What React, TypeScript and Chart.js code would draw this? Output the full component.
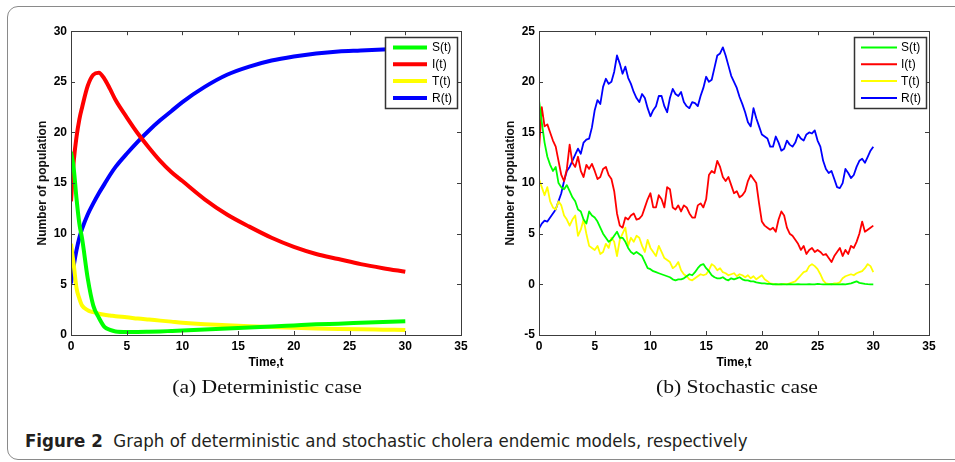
import React, { useEffect, useRef } from "react";
import { Chart, registerables } from "chart.js";

Chart.register(...registerables);

// ---------- data ----------
const seriesLabels = ["S(t)", "I(t)", "T(t)", "R(t)"];
const seriesColors = ["#00ff00", "#ff0000", "#ffff00", "#0000ff"];
const xTickValues = [0, 5, 10, 15, 20, 25, 30, 35];

// (a) deterministic case
const detTime = [0, 0.25, 0.5, 0.75, 1, 1.5, 2, 2.5, 3, 3.5, 4, 5, 6, 7, 8, 9, 10, 12, 14, 16, 18, 20, 22, 24, 26, 28, 30];
const detS = [18.1, 16.4, 13.4, 11.0, 9.5, 5.6, 2.9, 1.7, 0.8, 0.5, 0.35, 0.3, 0.3, 0.32, 0.35, 0.4, 0.45, 0.55, 0.65, 0.75, 0.85, 0.95, 1.05, 1.12, 1.2, 1.28, 1.35];
const detI = [13.2, 17.2, 19.6, 21.3, 22.5, 24.6, 25.7, 25.9, 25.3, 24.3, 23.2, 21.5, 19.9, 18.5, 17.2, 16.1, 15.2, 13.4, 11.9, 10.7, 9.6, 8.7, 8.0, 7.5, 7.0, 6.6, 6.25];
const detT = [9.0, 6.9, 4.6, 3.6, 2.9, 2.45, 2.25, 2.1, 2.0, 1.93, 1.85, 1.75, 1.62, 1.52, 1.42, 1.32, 1.22, 1.07, 0.96, 0.86, 0.78, 0.71, 0.65, 0.6, 0.56, 0.53, 0.5];
const detR = [5.1, 6.9, 8.4, 9.6, 10.5, 11.9, 13.0, 14.0, 14.9, 15.8, 16.6, 17.9, 19.1, 20.2, 21.2, 22.1, 23.0, 24.5, 25.7, 26.5, 27.1, 27.5, 27.8, 28.0, 28.1, 28.2, 28.3];

// (b) stochastic case, sampled every 0.25 time units from t = 0 to t = 30
const stochTime = Array.from({ length: 121 }, (_, i) => i * 0.25);
const stochS = [
  18.2, 16.0, 14.0, 12.6, 11.8, 11.2, 11.6, 10.0, 9.6, 9.4, 9.8, 9.2, 8.6, 8.2, 7.4, 7.2,
  6.4, 6.0, 7.2, 6.8, 6.6, 6.2, 5.6, 5.0, 4.6, 4.2, 4.4, 4.8, 5.2, 4.6, 4.6, 4.2,
  3.6, 3.2, 3.0, 3.2, 3.0, 2.8, 2.2, 1.6, 1.5, 1.3, 1.2, 1.1, 1.0, 0.9, 0.8, 0.7,
  0.5, 0.4, 0.5, 0.5, 0.6, 0.8, 1.0, 0.9, 1.2, 1.6, 1.9, 2.0, 1.6, 1.3, 0.9, 0.7,
  0.6, 0.6, 0.7, 0.5, 0.4, 0.6, 0.5, 0.6, 0.7, 0.5, 0.4, 0.4, 0.3, 0.3, 0.2, 0.15,
  0.1, 0.1, 0.05, 0.05, 0.0, 0.02, 0.0, 0.03, 0.0, 0.0, 0.02, 0.0, 0.0, 0.03, 0.0, 0.0,
  0.0, 0.02, 0.0, 0.0, 0.05, 0.02, 0.0, 0.0, 0.0, 0.03, 0.0, 0.0, 0.0, 0.02, 0.0, 0.05,
  0.1, 0.2, 0.3, 0.15, 0.1, 0.05, 0.02, 0.0, 0.0,
];
const stochI = [
  13.2, 17.5, 15.6, 15.8, 15.0, 14.2, 13.6, 12.2, 10.8, 10.2, 11.4, 13.8, 12.0, 11.6, 12.6, 11.2,
  10.6, 11.8, 11.4, 11.9, 11.2, 10.4, 10.6, 11.4, 11.6, 10.8, 10.4, 9.2, 7.0, 5.8, 5.6, 6.6,
  6.4, 6.8, 7.0, 6.4, 6.5, 6.8, 7.6, 8.4, 9.0, 7.6, 7.6, 8.8, 8.4, 7.6, 9.6, 9.4,
  7.6, 7.4, 7.8, 7.2, 7.8, 7.6, 7.0, 6.6, 6.6, 7.8, 8.0, 7.6, 8.4, 10.8, 11.2, 11.0,
  12.2, 11.6, 10.6, 10.2, 10.6, 9.8, 9.0, 9.2, 8.6, 8.8, 9.2, 10.2, 10.8, 10.4, 10.0, 8.0,
  6.2, 5.8, 5.6, 5.4, 5.6, 5.2, 6.4, 7.2, 6.8, 5.6, 5.0, 4.8, 4.4, 4.0, 3.4, 3.8,
  3.0, 3.4, 3.6, 3.2, 3.4, 3.2, 2.9, 3.0, 2.6, 2.2, 2.8, 3.2, 3.6, 2.8, 3.4, 3.0,
  3.8, 3.6, 4.2, 5.0, 6.2, 5.2, 5.4, 5.6, 5.8,
];
const stochT = [
  10.4, 9.6, 8.8, 9.6, 8.2, 7.6, 7.4, 8.2, 7.8, 6.8, 6.4, 5.8, 6.4, 6.8, 4.8, 5.4,
  6.4, 5.0, 3.8, 3.6, 3.4, 3.8, 3.0, 3.2, 4.0, 3.6, 4.6, 4.2, 2.8, 4.4, 5.0, 5.6,
  3.8, 4.6, 4.2, 4.8, 4.6, 3.8, 3.2, 4.4, 3.6, 3.2, 2.8, 3.8, 3.2, 2.6, 2.4, 2.2,
  1.6, 1.8, 2.2, 1.4, 1.0, 0.8, 0.5, 0.4, 0.6, 0.8, 1.0, 0.9, 1.0, 1.4, 2.0, 1.8,
  1.4, 1.6, 1.2, 1.1, 0.9, 1.0, 1.1, 0.8, 1.0, 0.9, 0.7, 0.9, 0.6, 0.8, 0.5, 0.7,
  0.9, 0.5, 0.3, 0.1, 0.05, 0.0, 0.0, 0.0, 0.05, 0.0, 0.1, 0.2, 0.3, 0.6, 0.9, 1.2,
  1.3, 1.8, 2.0, 1.8, 1.5, 1.0, 0.4, 0.1, 0.05, 0.0, 0.1, 0.1, 0.2, 0.6, 0.8, 0.9,
  1.0, 0.9, 1.1, 1.2, 1.3, 1.6, 2.0, 1.8, 1.2,
];
const stochR = [
  5.5, 6.0, 6.3, 6.2, 6.6, 7.0, 7.4, 8.2, 9.0, 10.2, 11.2, 11.6, 12.2, 12.8, 13.4, 12.9,
  14.0, 14.3, 14.4, 15.5, 17.2, 18.2, 17.8, 19.5, 20.3, 19.8, 20.0, 21.0, 22.6, 21.8, 20.8, 21.5,
  20.4, 19.8, 19.0, 18.4, 18.0, 18.8, 18.4, 17.4, 16.6, 17.2, 17.6, 18.6, 18.6, 17.6, 17.0, 18.4,
  19.3, 18.8, 18.6, 19.0, 18.0, 17.6, 17.4, 18.0, 17.9, 17.6, 18.6, 19.4, 20.5, 20.0, 20.2, 21.4,
  22.6, 22.8, 23.4, 22.6, 21.6, 20.6, 20.0, 19.4, 18.5, 17.8, 17.0, 16.0, 15.6, 17.4, 16.4, 15.6,
  14.8, 14.6, 14.4, 13.6, 13.6, 14.6, 14.0, 13.2, 13.4, 14.2, 13.8, 13.6, 14.0, 14.8, 14.4, 14.2,
  14.8, 15.0, 14.9, 15.2, 14.2, 13.6, 12.2, 11.4, 11.0, 11.2, 10.4, 9.6, 9.5, 10.0, 11.4, 11.0,
  10.5, 10.8, 11.6, 12.2, 12.4, 12.0, 12.6, 13.2, 13.6,
];

// ---------- plugins ----------
const matlabFrame = {
  id: "matlabFrame",
  afterDatasetsDraw(chart: any) {
    const { ctx, chartArea: a, scales } = chart;
    ctx.save();
    ctx.strokeStyle = "#3c3c3c";
    ctx.lineWidth = 1;
    ctx.strokeRect(Math.round(a.left) + 0.5, Math.round(a.top) + 0.5, Math.round(a.right - a.left), Math.round(a.bottom - a.top));
    const tl = 4;
    ctx.beginPath();
    scales.x.ticks.forEach((t: any) => {
      const px = Math.round(scales.x.getPixelForValue(t.value)) + 0.5;
      if (px <= a.left + 1 || px >= a.right - 1) return;
      ctx.moveTo(px, a.bottom);
      ctx.lineTo(px, a.bottom - tl);
      ctx.moveTo(px, a.top);
      ctx.lineTo(px, a.top + tl);
    });
    scales.y.ticks.forEach((t: any) => {
      const py = Math.round(scales.y.getPixelForValue(t.value)) + 0.5;
      if (py <= a.top + 1 || py >= a.bottom - 1) return;
      ctx.moveTo(a.left, py);
      ctx.lineTo(a.left + tl, py);
      ctx.moveTo(a.right, py);
      ctx.lineTo(a.right - tl, py);
    });
    ctx.stroke();
    ctx.restore();
  },
};

const boxLegend = {
  id: "boxLegend",
  afterDraw(chart: any, _args: any, opts: any) {
    const { ctx, chartArea: a } = chart;
    const w = 72;
    const h = 71;
    const left = Math.round(a.right - (opts.inset ?? 4) - w);
    const top = Math.round(a.top + 6);
    ctx.save();
    ctx.fillStyle = "#ffffff";
    ctx.fillRect(left, top, w, h);
    ctx.strokeStyle = "#333333";
    ctx.lineWidth = 1.5;
    ctx.strokeRect(left + 0.5, top + 0.5, w, h);
    ctx.font = "12px 'Liberation Sans', Arial, sans-serif";
    ctx.textBaseline = "middle";
    ctx.textAlign = "left";
    chart.data.datasets.forEach((ds: any, i: number) => {
      const y = top + 10.5 + i * 16.8;
      ctx.strokeStyle = ds.borderColor;
      ctx.lineWidth = opts.lineWidth ?? 2;
      ctx.beginPath();
      ctx.moveTo(left + (opts.lineStart ?? 8), y);
      ctx.lineTo(left + (opts.lineEnd ?? 42), y);
      ctx.stroke();
      ctx.fillStyle = "#000000";
      ctx.fillText(ds.label, left + 47, y + 0.5);
    });
    ctx.restore();
  },
};

// ---------- chart ----------
function buildConfig(
  time: number[],
  series: number[][],
  yMin: number,
  yMax: number,
  lineWidth: number,
  legendOpts: any,
  smooth: boolean
): any {
  const tickFont = { family: "'Liberation Sans', Arial, sans-serif", size: 12, weight: "bold" };
  return {
    type: "line",
    data: {
      datasets: series.map((vals, i) => ({
        label: seriesLabels[i],
        data: vals.map((v, j) => ({ x: time[j], y: v })),
        borderColor: seriesColors[i],
        backgroundColor: seriesColors[i],
        borderWidth: lineWidth,
        pointRadius: 0,
        fill: false,
        tension: smooth ? 0.4 : 0,
        cubicInterpolationMode: smooth ? "monotone" : "default",
        borderJoinStyle: "round",
      })),
    },
    options: {
      responsive: false,
      animation: false,
      events: [],
      layout: { padding: { top: 9, right: 19, left: 0, bottom: 0 } },
      plugins: {
        legend: { display: false },
        tooltip: { enabled: false },
        boxLegend: legendOpts,
      },
      scales: {
        x: {
          type: "linear",
          min: 0,
          max: 35,
          afterBuildTicks: (s: any) => {
            s.ticks = xTickValues.map((v) => ({ value: v }));
          },
          afterFit: (s: any) => {
            s.height = 45;
          },
          grid: { display: false, drawTicks: false },
          border: { display: false },
          ticks: { font: tickFont, color: "#000", padding: 4, maxRotation: 0 },
          title: {
            display: true,
            text: "Time,t",
            color: "#000",
            font: { family: "'Liberation Sans', Arial, sans-serif", size: 12, weight: "bold" },
            padding: { top: 0, bottom: 10 },
          },
        },
        y: {
          type: "linear",
          min: yMin,
          max: yMax,
          ticks: { stepSize: 5, font: tickFont, color: "#000", padding: 4 },
          afterFit: (s: any) => {
            s.width = 51;
          },
          grid: { display: false, drawTicks: false },
          border: { display: false },
          title: {
            display: true,
            text: "Number of population",
            color: "#111",
            font: { family: "'Liberation Sans', Arial, sans-serif", size: 12, weight: "bold" },
            padding: { top: 15, bottom: 0 },
          },
        },
      },
    },
    plugins: [matlabFrame, boxLegend],
  };
}

function ChartCanvas(props: { config: () => any; left: number; top: number }) {
  const ref = useRef<HTMLCanvasElement | null>(null);
  useEffect(() => {
    if (!ref.current) return;
    const chart = new Chart(ref.current, props.config());
    return () => chart.destroy();
  }, []);
  return (
    <canvas
      ref={ref}
      width={460}
      height={360}
      style={{ position: "absolute", left: props.left, top: props.top, width: 460, height: 360 }}
    />
  );
}

const subCaptionStyle: React.CSSProperties = {
  position: "absolute",
  width: 300,
  top: 376,
  textAlign: "center",
  fontFamily: "'Liberation Serif', 'Times New Roman', serif",
  fontSize: 18,
  lineHeight: "22px",
  color: "#111",
  transform: "scaleX(1.2)",
  transformOrigin: "50% 50%",
  whiteSpace: "nowrap",
};

export default function App() {
  return (
    <div
      style={{
        position: "fixed",
        left: 0,
        top: 0,
        width: 955,
        height: 462,
        overflow: "hidden",
        background: "#ffffff",
      }}
    >
      <div
        style={{
          position: "absolute",
          left: 7,
          top: 6,
          width: 1000,
          height: 454,
          border: "1.5px solid #8a8a8a",
          borderRadius: 11,
          boxSizing: "border-box",
        }}
      />
      <ChartCanvas
        left={20}
        top={20}
        config={() =>
          buildConfig(detTime, [detS, detI, detT, detR], 0, 30, 4, { lineWidth: 4, lineStart: 8, lineEnd: 42, inset: 4 }, true)
        }
      />
      <ChartCanvas
        left={488}
        top={20}
        config={() =>
          buildConfig(stochTime, [stochS, stochI, stochT, stochR], -5, 25, 1.8, { lineWidth: 2, lineStart: 7, lineEnd: 43, inset: 3 }, false)
        }
      />
      <div style={{ ...subCaptionStyle, left: 117 }}>(a) Deterministic case</div>
      <div style={{ ...subCaptionStyle, left: 587 }}>(b) Stochastic case</div>
      <div
        style={{
          position: "absolute",
          left: 25,
          top: 429,
          whiteSpace: "nowrap",
          fontFamily: "'DejaVu Sans Condensed', 'Liberation Sans', Arial, sans-serif",
          fontSize: 18.5,
          lineHeight: "24px",
          color: "#231f20",
        }}
      >
        <span style={{ fontWeight: "bold" }}>Figure 2</span>
        <span>{"\u00a0\u00a0Graph of deterministic and stochastic cholera endemic models, respectively"}</span>
      </div>
    </div>
  );
}
